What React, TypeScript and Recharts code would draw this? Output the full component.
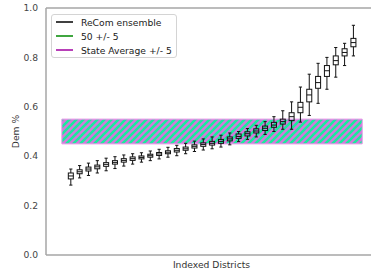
import React from "react";
import {
  ComposedChart,
  Bar,
  XAxis,
  YAxis,
  ReferenceArea,
  ReferenceLine,
} from "recharts";

// ensemble summary per district (sorted by median)
const medians = [
  0.32, 0.337, 0.348, 0.357, 0.367, 0.375, 0.383, 0.39, 0.395, 0.402, 0.409,
  0.416, 0.424, 0.43, 0.44, 0.447, 0.452, 0.46, 0.47, 0.48, 0.491, 0.502,
  0.513, 0.526, 0.54, 0.56, 0.598, 0.648, 0.698, 0.746, 0.787, 0.82, 0.86,
];
const q1s = [
  0.308, 0.329, 0.34, 0.349, 0.359, 0.368, 0.376, 0.383, 0.389, 0.396, 0.403,
  0.41, 0.417, 0.424, 0.433, 0.44, 0.445, 0.452, 0.462, 0.472, 0.482, 0.494,
  0.504, 0.517, 0.53, 0.544, 0.576, 0.62, 0.675, 0.723, 0.77, 0.806, 0.843,
];
const q3s = [
  0.332, 0.345, 0.356, 0.364, 0.374, 0.382, 0.39, 0.397, 0.401, 0.408, 0.415,
  0.422, 0.431, 0.437, 0.446, 0.454, 0.46, 0.468, 0.478, 0.49, 0.499, 0.511,
  0.522, 0.537, 0.55, 0.576, 0.618, 0.671, 0.723, 0.767, 0.806, 0.835, 0.877,
];
const lows = [
  0.283, 0.312, 0.322, 0.332, 0.341, 0.35, 0.36, 0.368, 0.376, 0.382, 0.389,
  0.396, 0.402, 0.41, 0.419, 0.425, 0.43, 0.437, 0.446, 0.459, 0.468, 0.478,
  0.488, 0.5, 0.509, 0.509, 0.538, 0.565, 0.614, 0.671, 0.72, 0.767, 0.806,
];
const highs = [
  0.348, 0.362, 0.372, 0.382, 0.392, 0.398, 0.405, 0.41, 0.414, 0.421, 0.428,
  0.436, 0.444, 0.452, 0.461, 0.47, 0.478, 0.485, 0.494, 0.5, 0.512, 0.525,
  0.54, 0.56, 0.584, 0.62, 0.68, 0.732, 0.776, 0.8, 0.84, 0.857, 0.93,
];

const yTicks = [0, 0.2, 0.4, 0.6, 0.8, 1.0];

const legendItems = [
  { name: "ReCom ensemble", color: "#000000" },
  { name: "50 +/- 5", color: "#008800" },
  { name: "State Average +/- 5", color: "#a000a0" },
];

const data = medians.map((m, i) => ({
  idx: i + 1,
  range: [lows[i], highs[i]],
  lo: lows[i],
  q1: q1s[i],
  med: m,
  q3: q3s[i],
  hi: highs[i],
}));

const FONT = "DejaVu Sans, sans-serif";
const SPINE = "#a6a6a6";

function BoxShape(props: any) {
  const { x, y, width, height, payload } = props;
  if (!payload) return null;
  const top = Math.min(y, y + height);
  const h = Math.abs(height);
  const { lo, hi, q1, q3, med } = payload;
  const toY = (v: number) => top + ((hi - v) / (hi - lo)) * h;
  const cx = x + width / 2;
  const cap = 1.6;
  return (
    <g stroke="#111" strokeWidth={1} fill="none">
      <line x1={cx} x2={cx} y1={toY(hi)} y2={toY(q3)} />
      <line x1={cx} x2={cx} y1={toY(q1)} y2={toY(lo)} />
      <line x1={cx - cap} x2={cx + cap} y1={toY(hi)} y2={toY(hi)} />
      <line x1={cx - cap} x2={cx + cap} y1={toY(lo)} y2={toY(lo)} />
      <rect x={x} y={toY(q3)} width={width} height={toY(q1) - toY(q3)} />
      <line x1={x} x2={x + width} y1={toY(med)} y2={toY(med)} />
    </g>
  );
}

function LegendBox() {
  return (
    <div
      style={{
        position: "absolute",
        left: 51,
        top: 14,
        width: 124,
        height: 42,
        border: "1px solid #d4d4d4",
        borderRadius: 3,
        background: "rgba(255,255,255,0.85)",
        fontFamily: FONT,
        fontSize: 9.2,
        color: "#222",
      }}
    >
      {legendItems.map((it, i) => (
        <div
          key={it.name}
          style={{
            position: "absolute",
            left: 3,
            top: 1 + i * 14,
            height: 12,
            display: "flex",
            alignItems: "center",
            whiteSpace: "nowrap",
          }}
        >
          <svg width={18} height={12} style={{ marginRight: 8 }}>
            <line x1={1} x2={18} y1={6} y2={6} stroke={it.color} strokeWidth={1.5} />
          </svg>
          <span>{it.name}</span>
        </div>
      ))}
    </div>
  );
}

export default function App() {
  return (
    <div
      style={{
        position: "absolute",
        left: 0,
        top: 0,
        width: 371,
        height: 272,
        background: "#fff",
      }}
    >
      <ComposedChart
        width={371}
        height={272}
        data={data}
        margin={{ top: 8, right: 0, bottom: 0, left: 0 }}
        style={{ fontFamily: FONT }}
      >
        <defs>
          <pattern
            id="hatch"
            patternUnits="userSpaceOnUse"
            width={7}
            height={7}
          >
            <rect x={0} y={0} width={7} height={7} fill="#d876dc" />
            <path
              d="M-1.75,1.75 L1.75,-1.75 M0,7 L7,0 M5.25,8.75 L8.75,5.25"
              stroke="#18ec9c"
              strokeWidth={2.6}
            />
          </pattern>
        </defs>
        <XAxis
          dataKey="idx"
          type="number"
          domain={[-1.8, 35]}
          ticks={[]}
          tick={false}
          tickLine={false}
          height={17}
          axisLine={{ stroke: SPINE, strokeWidth: 1.5 }}
          label={{
            value: "Indexed Districts",
            position: "insideBottom",
            offset: 4,
            dx: 3,
            fill: "#333",
            fontSize: 9.2,
            fontFamily: FONT,
          }}
        />
        <YAxis
          type="number"
          domain={[0, 1]}
          ticks={yTicks}
          width={46}
          tickLine={false}
          tickFormatter={(v: number) => v.toFixed(1)}
          tick={{ fill: "#444", fontSize: 9.2, fontFamily: FONT }}
          axisLine={{ stroke: SPINE, strokeWidth: 1.5 }}
          label={{
            value: "Dem %",
            angle: -90,
            position: "center",
            dx: -7,
            fill: "#333",
            fontSize: 9.2,
            fontFamily: FONT,
          }}
        />
        <ReferenceLine y={1} stroke={SPINE} strokeWidth={1.5} />
        <ReferenceArea
          x1={0}
          x2={34}
          y1={0.45}
          y2={0.55}
          fill="url(#hatch)"
          fillOpacity={1}
          stroke="#e58be6"
          strokeWidth={1}
        />
        <Bar
          dataKey="range"
          barSize={5}
          shape={BoxShape}
          isAnimationActive={false}
        />
      </ComposedChart>
      <LegendBox />
    </div>
  );
}
